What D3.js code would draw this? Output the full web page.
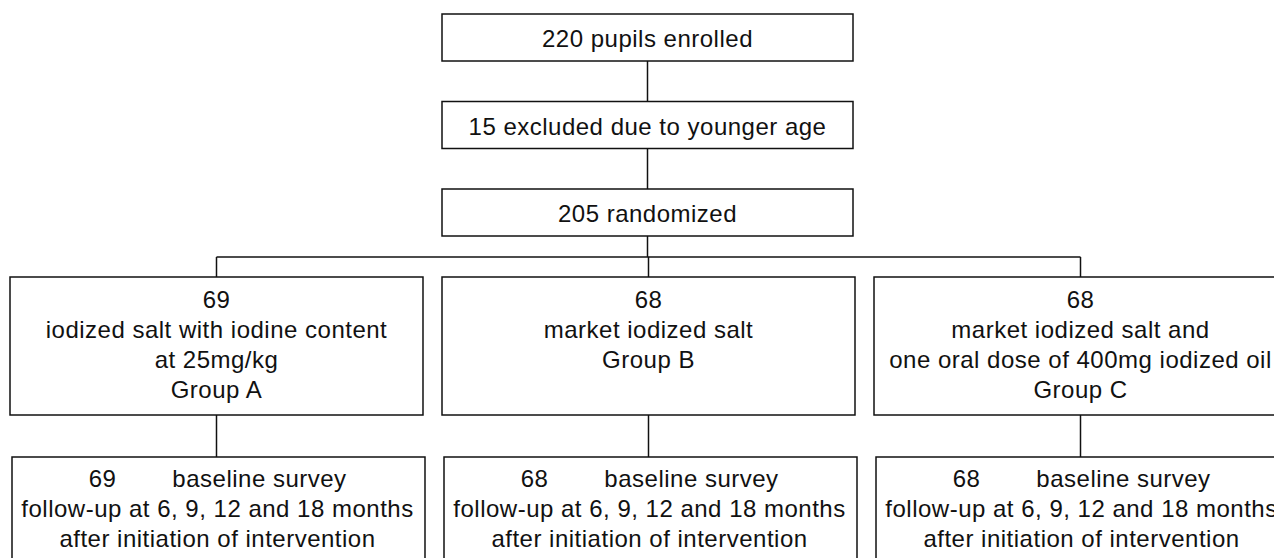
<!DOCTYPE html>
<html lang="en">
<head>
  <meta charset="UTF-8" />
  <title>Study flow chart</title>
  <script src="https://d3js.org/d3.v7.min.js"></script>
  <style>
    body { margin: 0; background: #fff; }
    svg { display: block; }
    text { font-family: "Liberation Sans", Arial, sans-serif; font-size: 24px; letter-spacing: 0.5px; fill: #111; }
  </style>
</head>
<body>
<svg id="chart"></svg>
<script>
// flow steps before randomization
const steps = ["220 pupils enrolled", "15 excluded due to younger age", "205 randomized"];

// the three arms
const groups = ["A", "B", "C"];
const groupCounts = [69, 68, 68];
const groupLines = [
  ["iodized salt with iodine content", "at 25mg/kg", "Group A"],
  ["market iodized salt", "Group B"],
  ["market iodized salt and", "one oral dose of 400mg iodized oil", "Group C"]
];
const followCounts = [69, 68, 68];
const followLines = ["follow-up at 6, 9, 12 and 18 months", "after initiation of intervention"];

const width = 1274, height = 558;
const svg = d3.select("#chart").attr("width", width).attr("height", height);

const lineStyle = sel => sel.attr("stroke", "#111").attr("stroke-width", 1.5).attr("fill", "none");

// top column of boxes
const topX = 442, topW = 411;
const stepY = d3.scalePoint().domain(steps).range([14, 189]);
const stepH = 47;

// arm columns
const col = d3.scaleBand().domain(groups).range([10, 1287]).paddingInner(0.044);
const cx = g => col(g) + col.bandwidth() / 2;
const armTop = 277, armH = 138;
const fuTop = 457, fuH = 130;
const busY = 257;
const lineH = 30;

// connectors
const links = svg.append("g").call(lineStyle);
steps.slice(1).forEach((s, i) => {
  links.append("line")
    .attr("x1", topX + topW / 2).attr("x2", topX + topW / 2)
    .attr("y1", stepY(steps[i]) + stepH).attr("y2", stepY(s));
});
links.append("line")
  .attr("x1", topX + topW / 2).attr("x2", topX + topW / 2)
  .attr("y1", stepY(steps[2]) + stepH).attr("y2", busY);
links.append("line")
  .attr("x1", cx("A")).attr("x2", cx("C"))
  .attr("y1", busY).attr("y2", busY);
groups.forEach(g => {
  links.append("line").attr("x1", cx(g)).attr("x2", cx(g)).attr("y1", busY).attr("y2", armTop);
  links.append("line").attr("x1", cx(g)).attr("x2", cx(g)).attr("y1", armTop + armH).attr("y2", fuTop);
});

// top boxes
const stepG = svg.append("g").selectAll("g").data(steps).join("g");
stepG.append("rect")
  .attr("x", topX).attr("y", d => stepY(d))
  .attr("width", topW).attr("height", stepH)
  .call(lineStyle);
stepG.append("text")
  .attr("x", topX + topW / 2).attr("y", d => stepY(d) + 33)
  .attr("text-anchor", "middle")
  .text(d => d);

// arm boxes
const armG = svg.append("g").selectAll("g").data(groups).join("g");
armG.append("rect")
  .attr("x", d => col(d)).attr("y", armTop)
  .attr("width", col.bandwidth()).attr("height", armH)
  .call(lineStyle);
armG.each(function(g, i) {
  const t = d3.select(this).append("text").attr("text-anchor", "middle");
  [String(groupCounts[i])].concat(groupLines[i]).forEach((ln, j) => {
    t.append("tspan").attr("x", cx(g)).attr("y", armTop + 31 + j * lineH).text(ln);
  });
});

// follow-up boxes
const fuG = svg.append("g").selectAll("g").data(groups).join("g");
fuG.append("rect")
  .attr("x", d => col(d) + 2).attr("y", fuTop)
  .attr("width", col.bandwidth()).attr("height", fuH)
  .call(lineStyle);
fuG.each(function(g, i) {
  const sel = d3.select(this);
  sel.append("text").attr("text-anchor", "middle")
    .attr("x", cx(g) - 114).attr("y", fuTop + 30)
    .text(followCounts[i]);
  sel.append("text").attr("text-anchor", "middle")
    .attr("x", cx(g) + 43).attr("y", fuTop + 30)
    .text("baseline survey");
  followLines.forEach((ln, j) => {
    sel.append("text").attr("text-anchor", "middle")
      .attr("x", cx(g) + 1).attr("y", fuTop + 30 + (j + 1) * lineH)
      .text(ln);
  });
});
</script>
</body>
</html>
